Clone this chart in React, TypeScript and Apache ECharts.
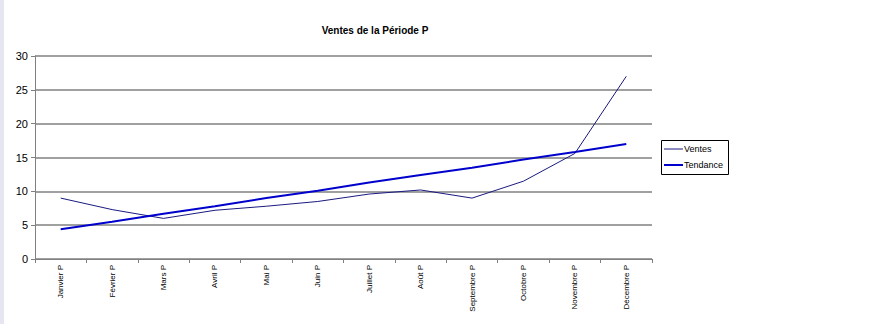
import React, { useEffect, useRef } from "react";
import * as echarts from "echarts";

const categories = [
  "Janvier P", "Février P", "Mars P", "Avril P", "Mai P", "Juin P",
  "Juillet P", "Août P", "Septembre P", "Octobre P", "Novembre P", "Décembre P",
];
const ventes = [9.0, 7.3, 6.0, 7.2, 7.8, 8.5, 9.6, 10.2, 9.0, 11.5, 15.6, 27.0];
const tendance = [4.4, 5.5, 6.7, 7.8, 9.0, 10.1, 11.3, 12.4, 13.5, 14.7, 15.8, 17.0];
const title = "Ventes de la Période P";
const seriesNames = ["Ventes", "Tendance"];
const seriesColors = ["#1a1a80", "#0000cc"];
const seriesWidths = [1, 2];

export default function App() {
  const ref = useRef<HTMLDivElement>(null);
  useEffect(() => {
    if (!ref.current) return;
    const chart = echarts.init(ref.current, null, { renderer: "svg" });
    const font = "Liberation Sans, Arial, sans-serif";
    const legendItems: any[] = [];
    seriesNames.forEach((name, i) => {
      const y = 149 + i * 16;
      legendItems.push({
        type: "line",
        shape: { x1: 664, y1: y, x2: 683, y2: y },
        style: { stroke: seriesColors[i], lineWidth: seriesWidths[i] },
        silent: true,
      });
      legendItems.push({
        type: "text",
        x: 684,
        y: y,
        style: {
          text: name,
          fontFamily: font,
          fontSize: 9,
          fill: "#000",
          verticalAlign: "middle",
        },
        silent: true,
      });
    });
    chart.setOption({
      animation: false,
      backgroundColor: "#ffffff",
      title: {
        text: title,
        left: 370,
        top: 20,
        textAlign: "center",
        textStyle: { fontFamily: font, fontSize: 10, fontWeight: "bold", color: "#000" },
      },
      grid: { left: 35, top: 56, width: 617, height: 203, containLabel: false },
      xAxis: {
        type: "category",
        data: categories,
        boundaryGap: true,
        axisLine: { lineStyle: { color: "#808080", width: 1 } },
        axisTick: { show: true, length: 4, lineStyle: { color: "#808080" } },
        axisLabel: {
          rotate: 90,
          interval: 0,
          fontFamily: font,
          fontSize: 8,
          color: "#000",
          margin: 6,
        },
      },
      yAxis: {
        type: "value",
        min: 0,
        max: 30,
        interval: 5,
        axisLine: { show: true, lineStyle: { color: "#808080", width: 1 } },
        axisTick: { show: true, length: 4, inside: false, lineStyle: { color: "#808080" } },
        axisLabel: { fontFamily: font, fontSize: 11, color: "#000", margin: 7 },
        splitLine: { lineStyle: { color: "#808080", width: 1.5 } },
      },
      series: [
        {
          name: seriesNames[0],
          type: "line",
          data: ventes,
          symbol: "none",
          lineStyle: { color: seriesColors[0], width: seriesWidths[0] },
          itemStyle: { color: seriesColors[0] },
        },
        {
          name: seriesNames[1],
          type: "line",
          data: tendance,
          symbol: "none",
          lineStyle: { color: seriesColors[1], width: seriesWidths[1] },
          itemStyle: { color: seriesColors[1] },
        },
      ],
      graphic: [
        {
          type: "rect",
          shape: { x: 0, y: 0, width: 4, height: 324 },
          style: { fill: "#e6e6f2" },
          silent: true,
        },
        {
          type: "rect",
          shape: { x: 661.5, y: 140.5, width: 67, height: 34 },
          style: { fill: "#fff", stroke: "#000", lineWidth: 1 },
          silent: true,
        },
        ...legendItems,
      ],
    });
    return () => chart.dispose();
  }, []);
  return (
    <div
      ref={ref}
      style={{ position: "fixed", left: 0, top: 0, width: 877, height: 324 }}
    />
  );
}
